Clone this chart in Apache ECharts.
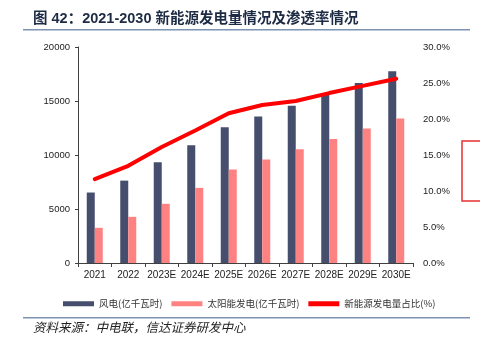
<!DOCTYPE html>
<html>
<head>
<meta charset="utf-8">
<script src="https://cdn.jsdelivr.net/npm/echarts@6/dist/echarts.min.js"></script>
<style>
  html, body { margin: 0; padding: 0; background: #fff; }
  #chart { width: 480px; height: 344px; }
</style>
</head>
<body>
<div id="chart"></div>
<script>
// Years on the category axis
const years = ['2021', '2022', '2023E', '2024E', '2025E', '2026E', '2027E', '2028E', '2029E', '2030E'];
// Wind power generation (100 million kWh)
const windPower = [6526, 7627, 9340, 10900, 12580, 13560, 14570, 15560, 16670, 17750];
// Solar power generation (100 million kWh)
const solarPower = [3259, 4276, 5480, 6960, 8650, 9580, 10540, 11490, 12450, 13370];
// Share of new-energy generation in total (fraction)
const newEnergyShare = [0.1165, 0.135, 0.161, 0.184, 0.208, 0.2195, 0.225, 0.236, 0.246, 0.256];

// Axis tick settings
const leftTicks = { min: 0, max: 20000, interval: 5000 };
const rightTicks = { min: 0, max: 0.30, interval: 0.05 };

const chart = echarts.init(document.getElementById('chart'), null, { renderer: 'canvas' });
const axisColor = '#404040';
const labelFont = 'Liberation Sans, Arial, sans-serif';
const cjkFont = '"Noto Sans CJK SC", sans-serif';

chart.setOption({
  animation: false,
  backgroundColor: '#ffffff',
  grid: { left: 78, right: 67, top: 47, bottom: 81, containLabel: false },
  legend: {
    left: 58,
    top: 294,
    itemWidth: 31,
    itemHeight: 5,
    itemGap: 9,
    icon: 'rect',
    itemStyle: { borderWidth: 0 },
    textStyle: { fontSize: 9.5, color: '#333', fontFamily: cjkFont },
    data: ['风电(亿千瓦时)', '太阳能发电(亿千瓦时)', '新能源发电量占比(%)']
  },
  xAxis: {
    type: 'category',
    data: years,
    axisLine: { lineStyle: { color: axisColor, width: 1 } },
    axisTick: { show: true, alignWithLabel: false, length: 4, lineStyle: { color: axisColor } },
    axisLabel: { fontSize: 10, color: '#222', margin: 7, fontFamily: labelFont, interval: 0 }
  },
  yAxis: [
    {
      type: 'value',
      min: leftTicks.min, max: leftTicks.max, interval: leftTicks.interval,
      axisLine: { show: true, lineStyle: { color: axisColor, width: 1 } },
      axisTick: { show: true, length: 3, lineStyle: { color: axisColor } },
      splitLine: { show: false },
      axisLabel: {
        fontSize: 9.5, color: '#222', margin: 8, fontFamily: labelFont,
        formatter: v => String(v)
      }
    },
    {
      type: 'value',
      position: 'right',
      min: rightTicks.min, max: rightTicks.max, interval: rightTicks.interval,
      axisLine: { show: false },
      axisTick: { show: false },
      splitLine: { show: false },
      axisLabel: {
        fontSize: 9.5, color: '#222', margin: 10, fontFamily: labelFont,
        formatter: v => (v * 100).toFixed(1) + '%'
      }
    }
  ],
  series: [
    {
      name: '风电(亿千瓦时)',
      type: 'bar',
      data: windPower,
      barWidth: 8,
      barGap: '0%',
      itemStyle: { color: '#454E6D' }
    },
    {
      name: '太阳能发电(亿千瓦时)',
      type: 'bar',
      data: solarPower,
      barWidth: 8,
      itemStyle: { color: '#FF8282' }
    },
    {
      name: '新能源发电量占比(%)',
      type: 'line',
      yAxisIndex: 1,
      data: newEnergyShare,
      symbol: 'none',
      lineStyle: { color: '#FF0000', width: 4, cap: 'round' },
      itemStyle: { color: '#FF0000' }
    }
  ],
  graphic: [
    {
      type: 'text', left: 33, top: 12,
      style: {
        text: '图 42：2021-2030 新能源发电量情况及渗透率情况',
        font: 'bold 14.5px "Liberation Sans", "Noto Sans CJK SC", sans-serif',
        fill: '#1E2B45'
      }
    },
    {
      type: 'rect', shape: { x: 23, y: 29, width: 447, height: 1.5 },
      style: { fill: '#7C93B3' }
    },
    {
      type: 'rect', shape: { x: 23, y: 317, width: 447, height: 1.5 },
      style: { fill: '#7C93B3' }
    },
    {
      type: 'text', left: 33, top: 321,
      style: {
        text: '资料来源：中电联，信达证券研发中心',
        font: 'italic 12.5px "Noto Sans CJK SC", serif',
        fill: '#222'
      }
    },
    {
      type: 'rect', shape: { x: 462, y: 141, width: 30, height: 60 },
      style: { fill: 'none', stroke: '#E83030', lineWidth: 1.5 }
    }
  ]
});
</script>
</body>
</html>
